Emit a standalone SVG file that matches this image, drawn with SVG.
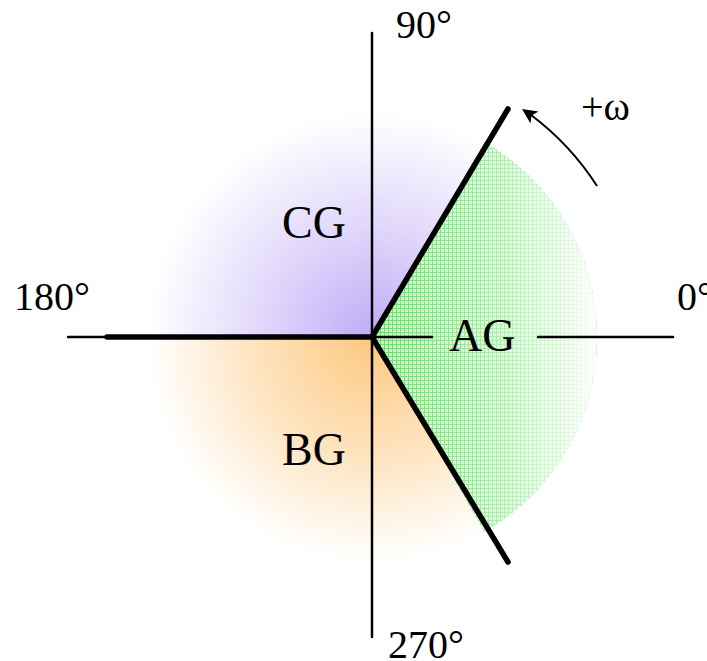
<svg xmlns="http://www.w3.org/2000/svg" width="707" height="661" viewBox="0 0 707 661">
  <style>
    .lbl { font-family: "Liberation Serif", "Times New Roman", serif; fill: #000; }
    .big { font-size: 46px; }
    .deg { font-size: 40px; }
    .thin { stroke: #000; stroke-width: 2.5; fill: none; stroke-linecap: round; }
    .thick { stroke: #000; stroke-width: 5.5; fill: none; stroke-linecap: round; }
  </style>
  <defs>
    <radialGradient id="gPurple" gradientUnits="userSpaceOnUse" cx="372" cy="337" r="225">
      <stop offset="0" stop-color="#c0abf7"/>
      <stop offset="0.5" stop-color="#e1d8fb"/>
      <stop offset="1" stop-color="#ffffff"/>
    </radialGradient>
    <radialGradient id="gOrange" gradientUnits="userSpaceOnUse" cx="372" cy="337" r="225">
      <stop offset="0" stop-color="#fdc880"/>
      <stop offset="0.5" stop-color="#fee2bc"/>
      <stop offset="1" stop-color="#ffffff"/>
    </radialGradient>
    <pattern id="grid" patternUnits="userSpaceOnUse" width="4" height="4">
      <rect width="4" height="4" fill="#c4f0c4"/>
      <path d="M0 0.5H4M0.5 0V4" stroke="#5cd85c" stroke-width="1"/>
    </pattern>
    <linearGradient id="fadeW" gradientUnits="userSpaceOnUse" x1="372" y1="0" x2="600" y2="0">
      <stop offset="0" stop-color="#fff" stop-opacity="0.08"/>
      <stop offset="0.5" stop-color="#fff" stop-opacity="0.45"/>
      <stop offset="1" stop-color="#fff" stop-opacity="0.97"/>
    </linearGradient>
  </defs>

  <g id="regions">
    <g id="region-CG">
      <path d="M372 337L484.5 142.1A225 225 0 0 0 147 337Z" fill="url(#gPurple)"/>
    </g>
    <g id="region-BG">
      <path d="M372 337L147 337A225 225 0 0 0 484.5 531.9Z" fill="url(#gOrange)"/>
    </g>
    <g id="region-AG">
      <path d="M372 337L484.5 142.1A225 225 0 0 1 484.5 531.9Z" fill="url(#grid)"/>
      <path d="M372 337L484.5 142.1A225 225 0 0 1 484.5 531.9Z" fill="url(#fadeW)"/>
    </g>
  </g>

  <g id="connectors">
    <line class="thin" x1="372" y1="33" x2="372" y2="637"/>
    <line class="thin" x1="68" y1="337" x2="372" y2="337"/>
    <line class="thin" x1="372" y1="337" x2="432" y2="337"/>
    <line class="thin" x1="538" y1="337" x2="673" y2="337"/>
    <line class="thick" x1="107" y1="337" x2="372" y2="337"/>
    <line class="thick" x1="372" y1="337" x2="508" y2="109"/>
    <line class="thick" x1="372" y1="337" x2="508" y2="562"/>
    <path d="M597 186A272 272 0 0 0 531 115" fill="none" stroke="#000" stroke-width="2"/>
    <path d="M522 109L538.5 111.5L531.5 115.5L530.5 123.5Z" fill="#000"/>
  </g>

  <g id="labels">
    <text class="lbl big" x="282" y="238">CG</text>
    <text class="lbl big" x="449" y="351">AG</text>
    <text class="lbl big" x="282" y="465">BG</text>
    <text class="lbl deg" x="14" y="310">180°</text>
    <text class="lbl deg" x="677" y="310">0°</text>
    <text class="lbl deg" x="396" y="38">90°</text>
    <text class="lbl deg" x="388" y="658">270°</text>
    <text class="lbl" x="581" y="120" font-size="40">+ω</text>
  </g>
</svg>
